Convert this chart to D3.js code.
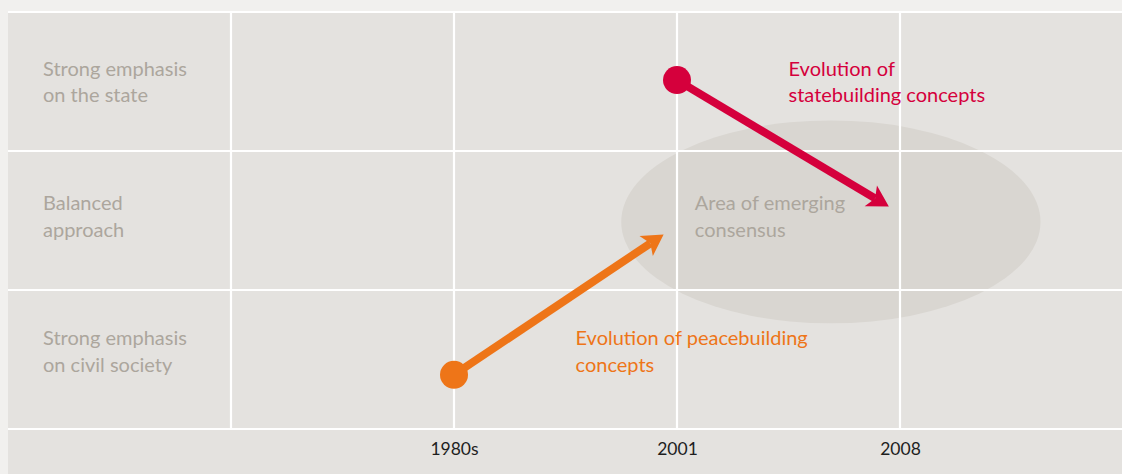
<!DOCTYPE html>
<html>
<head>
<meta charset="utf-8">
<script src="https://cdn.jsdelivr.net/npm/d3@7"></script>
<style>
  body { margin: 0; background: #f1f0ee; }
  text { font-family: Lato, 'Noto Sans', sans-serif; }
</style>
</head>
<body>
<svg width="1122" height="474"></svg>
<script>
// periods on the x axis (columns 2..4), approaches on the y axis (rows 0..2)
const periods = ['1980s', '2001', '2008'];
const approaches = [
  ['Strong emphasis', 'on civil society'],
  ['Balanced', 'approach'],
  ['Strong emphasis', 'on the state']
];

// arrows: start point and arrow tip, in column / row units
const statebuilding = [{x: 3.0, y: 2.51}, {x: 3.95, y: 1.6}];
const peacebuilding = [{x: 2.0, y: 0.39}, {x: 2.94, y: 1.4}];
const consensus = {cx: 3.69, cy: 1.49, rx: 0.94, ry: 0.73};

const notes = [
  {lines: ['Evolution of', 'statebuilding concepts'], x: 3.5, row: 2, color: '#d5003c'},
  {lines: ['Area of emerging', 'consensus'], x: 3.08, row: 1, color: '#aca69d'},
  {lines: ['Evolution of peacebuilding', 'concepts'], x: 2.545, row: 0, color: '#ee7518'}
];

const svg = d3.select('svg');
const width = +svg.attr('width');
const height = +svg.attr('height');

const x = d3.scaleLinear().domain([0, 5]).range([8, 1123]);
const y = d3.scaleLinear().domain([0, 3]).range([429, 12]);
// baseline of the first text line in each row
const rowText = d3.scaleLinear().domain([0, 2]).range([345, 75.5]);
const lineHeight = 26.5;
const fontSize = 20;

svg.append('rect')
  .attr('x', 8).attr('y', 12)
  .attr('width', width - 8).attr('height', height - 12)
  .attr('fill', '#e4e2df');

// consensus ellipse sits under the grid
svg.append('ellipse')
  .attr('cx', x(consensus.cx))
  .attr('cy', y(consensus.cy))
  .attr('rx', x(consensus.rx) - x(0))
  .attr('ry', y(0) - y(consensus.ry))
  .attr('fill', '#d9d6d1');

const grid = svg.append('g').attr('stroke', '#fff').attr('stroke-width', 2.2);
grid.selectAll('.v').data([1, 2, 3, 4]).join('line')
  .attr('x1', d => x(d)).attr('x2', d => x(d))
  .attr('y1', y(3)).attr('y2', y(0));
grid.selectAll('.h').data([0, 1, 2, 3]).join('line')
  .attr('x1', 8).attr('x2', width)
  .attr('y1', d => y(d)).attr('y2', d => y(d));

const xAxis = d3.axisBottom(x)
  .tickValues(periods.map((p, i) => i + 2))
  .tickFormat(d => periods[d - 2])
  .tickSize(0)
  .tickPadding(14);

const xAxisG = svg.append('g')
  .attr('transform', `translate(0, ${y(0)})`)
  .call(xAxis);
xAxisG.select('.domain').remove();
xAxisG.selectAll('text')
  .attr('fill', '#1e1e1e')
  .style('font-size', '17.5px')
  .style('font-family', 'Lato, sans-serif');

const multiline = (sel, lines) => {
  sel.selectAll('tspan').data(lines).join('tspan')
    .attr('x', sel.attr('x'))
    .attr('dy', (d, i) => i === 0 ? 0 : lineHeight)
    .text(d => d);
};

approaches.forEach((lines, i) => {
  svg.append('text')
    .attr('x', 43)
    .attr('y', rowText(i))
    .attr('fill', '#aca69d')
    .style('font-size', fontSize + 'px')
    .call(multiline, lines);
});

const drawArrow = (pts, color) => {
  const [a, b] = pts.map(p => [x(p.x), y(p.y)]);
  const dx = b[0] - a[0], dy = b[1] - a[1];
  const len = Math.hypot(dx, dy);
  const ux = dx / len, uy = dy / len;
  const headLen = 21, headW = 12;
  const base = [b[0] - ux * headLen, b[1] - uy * headLen];
  const g = svg.append('g');
  g.append('line')
    .attr('x1', a[0]).attr('y1', a[1])
    .attr('x2', base[0] + ux * 5).attr('y2', base[1] + uy * 5)
    .attr('stroke', color).attr('stroke-width', 8);
  const notch = [b[0] - ux * (headLen - 5), b[1] - uy * (headLen - 5)];
  g.append('path')
    .attr('d', d3.line()([
      b,
      [base[0] - uy * headW, base[1] + ux * headW],
      notch,
      [base[0] + uy * headW, base[1] - ux * headW]
    ]) + 'Z')
    .attr('fill', color);
  g.append('circle')
    .attr('cx', a[0]).attr('cy', a[1]).attr('r', 14)
    .attr('fill', color);
};

drawArrow(statebuilding, '#d5003c');
drawArrow(peacebuilding, '#ee7518');

notes.forEach(n => {
  svg.append('text')
    .attr('x', x(n.x))
    .attr('y', rowText(n.row))
    .attr('fill', n.color)
    .style('font-size', fontSize + 'px')
    .call(multiline, n.lines);
});
</script>
</body>
</html>
